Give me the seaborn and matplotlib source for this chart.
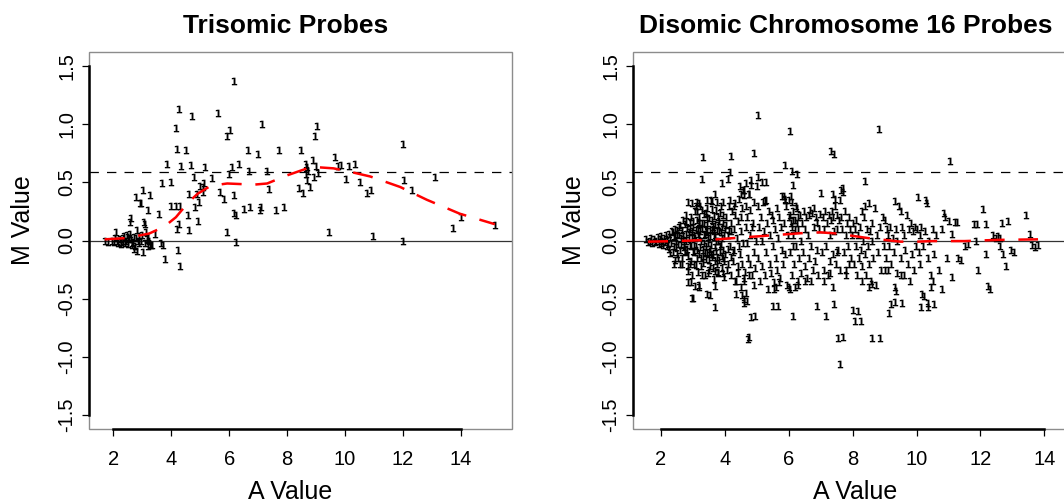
import matplotlib
matplotlib.use("Agg")
import matplotlib.pyplot as plt
from matplotlib.patches import Rectangle
import numpy as np
import pandas as pd
import seaborn as sns


# ---------------------------------------------------------
# Data (A = mean log intensity, M = log ratio)
# ---------------------------------------------------------

trisomic_pts = [
    (1.72, 0.00), (1.80, -0.01), (1.95, 0.00), (2.02, -0.01), (2.09, 0.07), (2.12, 0.00),
    (2.15, -0.02), (2.22, 0.01), (2.28, -0.01), (2.33, 0.02), (2.38, 0.04), (2.41, -0.02),
    (2.45, 0.00), (2.48, 0.05), (2.50, -0.03), (2.53, 0.01), (2.56, 0.06), (2.58, 0.16),
    (2.60, 0.19), (2.63, -0.02), (2.66, -0.04), (2.70, 0.03), (2.73, -0.07), (2.75, -0.05),
    (2.79, 0.37), (2.80, 0.09), (2.82, -0.086), (2.84, 0.00), (2.87, 0.04), (2.90, -0.02),
    (2.93, 0.32), (2.97, 0.32), (3.00, 0.05), (3.04, 0.43), (3.04, -0.10), (3.06, 0.16),
    (3.10, 0.14), (3.13, 0.07), (3.18, 0.26), (3.18, 0.03), (3.22, 0.00), (3.25, -0.03),
    (3.28, 0.39), (3.30, -0.04), (3.33, -0.04), (3.43, 0.06), (3.58, 0.23), (3.65, -0.02),
    (3.67, 0.49), (3.70, -0.04), (3.78, -0.16), (3.84, 0.66), (3.98, 0.50), (3.98, 0.30),
    (4.18, 0.97), (4.20, 0.79), (4.25, 1.13), (4.16, 0.30), (4.30, 0.30), (4.19, 0.10),
    (4.28, 0.14), (4.22, -0.08), (4.31, -0.215), (4.35, 0.64), (4.52, 0.78), (4.56, 0.22),
    (4.60, 0.40), (4.60, 0.09), (4.67, 0.65), (4.73, 1.07), (4.79, 0.55), (4.82, 0.29),
    (4.90, 0.40), (4.95, 0.33), (4.93, 0.17), (5.00, 0.47), (5.08, 0.46), (5.13, 0.49),
    (5.08, 0.42), (5.17, 0.63), (5.40, 0.54), (5.61, 1.10), (5.68, 0.42), (5.82, 0.36),
    (5.93, 0.07), (5.93, 0.90), (6.03, 0.95), (5.99, 0.57), (6.08, 0.63), (6.16, 1.37),
    (6.16, 0.39), (6.16, 0.24), (6.25, 0.22), (6.22, -0.015), (6.35, 0.66), (6.51, 0.27),
    (6.65, 0.78), (6.68, 0.60), (6.72, 0.29), (7.00, 0.74), (7.05, 0.26), (7.08, 0.29),
    (7.12, 1.00), (7.31, 0.60), (7.39, 0.44), (7.60, 0.26), (7.71, 0.78), (7.88, 0.29),
    (8.40, 0.45), (8.49, 0.78), (8.55, 0.41), (8.66, 0.66), (8.66, 0.57), (8.68, 0.63),
    (8.70, 0.52), (8.73, 0.60), (8.79, 0.46), (8.89, 0.69), (8.91, 0.55), (8.96, 0.90),
    (9.03, 0.98), (9.05, 0.58), (9.00, 0.64), (9.45, 0.07), (9.66, 0.72), (9.75, 0.64),
    (9.85, 0.65), (10.03, 0.53), (10.14, 0.64), (10.35, 0.66), (10.52, 0.50), (10.75, 0.41),
    (10.90, 0.43), (10.96, 0.04), (11.99, 0.83), (12.04, 0.52), (12.00, 0.00), (12.30, 0.43),
    (13.10, 0.55), (13.74, 0.11), (13.99, 0.20), (15.17, 0.13),
    (2.05, 0.02), (2.25, -0.03), (2.35, 0.00), (2.52, 0.03), (2.62, 0.02), (2.68, -0.01),
    (2.77, 0.02), (2.95, 0.00), (3.08, -0.02), (3.15, 0.01), (3.20, -0.05),
]

trisomic_fit_a = [1.7, 2.4, 2.84, 3.24, 3.76, 4.16, 4.56, 4.9, 5.36, 5.93, 6.85, 7.31,
                  8.0, 8.69, 9.03, 9.6, 10.18, 10.87, 11.9, 12.82, 13.96, 15.17]
trisomic_fit_m = [0.01, 0.02, 0.04, 0.06, 0.12, 0.20, 0.32, 0.40, 0.47, 0.49, 0.48, 0.49,
                  0.56, 0.62, 0.63, 0.62, 0.59, 0.55, 0.46, 0.35, 0.23, 0.14]

disomic_pts = [
    # A ~ 1.5 - 2.3
    (1.55, 0.01), (1.60, -0.01), (1.65, 0.00), (1.70, 0.02), (1.72, -0.02), (1.78, 0.01),
    (1.82, -0.01), (1.85, 0.00), (1.90, 0.03), (1.93, -0.03), (1.97, 0.01), (2.00, -0.02),
    (2.02, 0.04), (2.05, 0.00), (2.08, -0.04), (2.10, 0.02), (2.13, -0.01), (2.15, 0.05),
    (2.18, -0.05), (2.20, 0.01), (2.22, -0.03), (2.25, 0.06), (2.27, -0.07), (2.30, 0.03),
    # A ~ 2.3 - 3.0
    (2.32, -0.02), (2.35, 0.08), (2.37, -0.10), (2.40, 0.04), (2.42, -0.05), (2.45, 0.10),
    (2.47, 0.00), (2.50, -0.12), (2.52, 0.06), (2.55, -0.03), (2.57, 0.12), (2.60, -0.08),
    (2.62, 0.02), (2.65, 0.09), (2.67, -0.15), (2.70, 0.05), (2.72, -0.06), (2.75, 0.14),
    (2.77, -0.10), (2.80, 0.00), (2.82, 0.11), (2.85, -0.13), (2.87, 0.07), (2.90, -0.04),
    (2.92, 0.16), (2.95, -0.18), (2.97, 0.03), (3.00, -0.09), (2.50, 0.09), (2.55, -0.15),
    (2.60, 0.13), (2.65, -0.20), (2.70, 0.18), (2.75, -0.09), (2.80, 0.22), (2.85, -0.26),
    (2.90, 0.10), (2.95, 0.20), (2.98, -0.30), (2.45, -0.17), (2.38, 0.07), (2.41, -0.20),
    (2.60, -0.20), (2.28, -0.11), (2.84, -0.36), (3.07, -0.39), (2.96, -0.49), (3.20, -0.40),
    (3.43, -0.46), (2.84, -0.22), (2.86, 0.33), (3.14, 0.33), (2.80, 0.17), (3.12, 0.25),
    (2.97, 0.32), (2.91, -0.20), (2.94, -0.36), (3.00, -0.49),
    # A ~ 3.0 - 4.0
    (3.02, 0.12), (3.05, -0.20), (3.07, 0.25), (3.10, -0.05), (3.12, 0.18), (3.15, -0.27),
    (3.17, 0.06), (3.20, -0.12), (3.22, 0.30), (3.25, 0.00), (3.27, -0.22), (3.30, 0.15),
    (3.32, -0.08), (3.35, 0.23), (3.37, -0.30), (3.40, 0.09), (3.42, -0.16), (3.45, 0.28),
    (3.47, -0.02), (3.50, 0.19), (3.52, -0.25), (3.55, 0.04), (3.57, 0.35), (3.60, -0.14),
    (3.62, 0.12), (3.65, -0.33), (3.67, 0.21), (3.70, -0.06), (3.72, 0.26), (3.75, -0.20),
    (3.77, 0.08), (3.80, -0.28), (3.82, 0.17), (3.85, -0.10), (3.87, 0.30), (3.90, -0.24),
    (3.92, 0.02), (3.95, 0.22), (3.97, -0.31), (4.00, 0.10), (3.05, 0.05), (3.10, 0.30),
    (3.15, 0.10), (3.20, 0.20), (3.25, -0.15), (3.30, -0.30), (3.35, 0.05), (3.40, -0.05),
    (3.45, 0.13), (3.50, -0.10), (3.55, -0.22), (3.60, 0.27), (3.65, 0.03), (3.70, 0.14),
    (3.75, 0.33), (3.80, 0.00), (3.85, 0.24), (3.90, 0.12), (3.95, -0.15), (3.03, -0.10),
    (3.13, -0.15), (3.23, 0.08), (3.33, -0.19), (3.43, 0.20), (3.53, 0.10), (3.63, -0.24),
    (3.73, 0.00), (3.83, -0.17), (3.93, 0.15), (3.08, 0.02), (3.18, 0.16), (3.28, 0.26),
    (3.38, -0.10), (3.48, -0.28), (3.58, -0.04), (3.68, -0.18), (3.78, 0.20), (3.88, -0.03),
    (3.98, 0.05), (3.28, 0.53), (3.33, 0.72), (3.20, 0.32), (3.70, 0.40), (3.96, 0.33),
    (3.54, -0.47), (3.70, -0.57), (3.70, -0.39), (3.79, -0.27), (3.95, -0.28), (3.20, -0.38),
    (3.60, 0.34), (3.45, 0.35), (3.92, 0.49),
    # dense core A ~ 2.4 - 4.2
    (2.44, 0.03), (2.49, -0.06), (2.58, 0.05), (2.63, -0.04), (2.69, 0.01), (2.74, -0.03),
    (2.79, 0.06), (2.83, -0.07), (2.88, 0.02), (2.93, -0.05), (2.99, 0.08), (3.04, -0.04),
    (3.09, 0.09), (3.14, -0.08), (3.19, 0.04), (3.24, -0.06), (3.29, 0.11), (3.34, -0.02),
    (3.39, 0.06), (3.44, -0.11), (3.49, 0.03), (3.54, -0.07), (3.59, 0.09), (3.64, -0.12),
    (3.69, 0.05), (3.74, -0.09), (3.79, 0.13), (3.84, -0.05), (3.89, 0.07), (3.94, -0.08),
    (3.99, -0.18), (4.04, 0.13), (4.09, -0.07), (4.14, 0.09), (4.19, -0.14), (3.01, 0.17),
    (3.11, -0.21), (3.21, 0.14), (3.31, -0.13), (3.41, 0.24), (3.51, -0.17), (3.61, 0.18),
    (3.71, -0.26), (3.81, 0.09), (3.91, -0.13), (3.36, 0.15), (3.46, 0.07), (3.56, -0.12),
    (3.66, 0.10), (3.76, -0.14),
    # A ~ 4.0 - 5.0
    (4.02, -0.12), (4.05, 0.20), (4.08, -0.25), (4.10, 0.05), (4.12, 0.30), (4.15, -0.05),
    (4.18, 0.15), (4.20, -0.30), (4.22, 0.25), (4.25, -0.18), (4.28, 0.10), (4.30, -0.08),
    (4.33, 0.22), (4.35, -0.35), (4.38, 0.02), (4.40, 0.17), (4.42, -0.22), (4.45, 0.36),
    (4.48, -0.12), (4.50, 0.08), (4.52, -0.40), (4.55, 0.28), (4.58, -0.02), (4.60, 0.43),
    (4.62, -0.27), (4.65, 0.12), (4.68, -0.45), (4.70, 0.20), (4.72, -0.15), (4.75, 0.40),
    (4.78, -0.20), (4.80, 0.05), (4.82, 0.48), (4.85, -0.30), (4.88, 0.15), (4.90, -0.10),
    (4.92, 0.33), (4.95, -0.24), (4.98, 0.00), (4.10, -0.20), (4.20, 0.08), (4.30, 0.30),
    (4.40, -0.28), (4.50, 0.20), (4.60, -0.35), (4.70, -0.02), (4.80, 0.26), (4.90, -0.38),
    (4.15, 0.35), (4.45, -0.05), (4.65, 0.30), (4.85, 0.12), (4.25, -0.10), (4.55, -0.20),
    (4.75, -0.30), (4.17, 0.59), (4.19, 0.73), (4.11, 0.53), (4.61, -0.54), (4.96, -0.65),
    (4.73, -0.85), (4.75, -0.83), (4.82, -0.66), (4.60, -0.50), (4.55, -0.47), (4.70, -0.52),
    (4.35, -0.46), (4.90, 0.75), (4.47, 0.47), (4.68, 0.49), (4.81, 0.52), (4.50, 0.40),
    (4.60, 0.39), (4.32, 0.32), (4.58, 0.43), (4.75, 0.40), (4.33, -0.35), (4.61, -0.32),
    # A ~ 5.0 - 6.0
    (5.03, 0.30), (5.05, -0.15), (5.08, 0.12), (5.10, -0.35), (5.12, 0.20), (5.15, 0.00),
    (5.18, -0.22), (5.20, 0.33), (5.22, 0.08), (5.25, -0.30), (5.28, 0.35), (5.30, -0.10),
    (5.32, 0.15), (5.35, -0.42), (5.38, 0.25), (5.40, -0.20), (5.42, 0.05), (5.45, -0.28),
    (5.48, 0.22), (5.50, -0.05), (5.52, 0.18), (5.55, -0.36), (5.58, 0.10), (5.60, -0.15),
    (5.62, 0.28), (5.65, -0.25), (5.68, 0.02), (5.70, 0.20), (5.72, -0.32), (5.75, 0.12),
    (5.78, -0.08), (5.80, 0.38), (5.82, -0.20), (5.85, 0.15), (5.88, 0.35), (5.90, -0.12),
    (5.92, 0.30), (5.95, -0.38), (5.98, 0.05), (5.03, 1.08), (5.17, 0.50), (5.05, 0.55),
    (5.30, 0.50), (5.52, -0.56), (5.66, -0.565), (5.55, -0.42), (5.60, -0.40), (5.70, -0.36),
    (5.89, 0.65), (5.85, 0.38), (5.87, 0.36), (5.25, 0.34), (5.00, 0.47),
    # A ~ 6.0 - 7.0
    (6.02, 0.20), (6.05, -0.10), (6.08, 0.15), (6.10, -0.30), (6.12, 0.25), (6.15, 0.05),
    (6.18, -0.20), (6.20, 0.18), (6.22, -0.05), (6.25, 0.28), (6.28, -0.35), (6.30, 0.10),
    (6.32, -0.15), (6.35, 0.22), (6.38, -0.28), (6.40, 0.00), (6.42, 0.15), (6.45, -0.10),
    (6.48, 0.25), (6.50, -0.22), (6.52, 0.10), (6.55, 0.20), (6.58, -0.32), (6.60, 0.05),
    (6.62, 0.22), (6.65, -0.15), (6.68, 0.26), (6.70, -0.05), (6.72, 0.24), (6.75, -0.25),
    (6.78, 0.12), (6.80, 0.28), (6.82, -0.18), (6.85, 0.20), (6.88, -0.08), (6.90, 0.16),
    (6.92, -0.30), (6.95, 0.10), (6.98, 0.23), (6.05, 0.22), (6.10, 0.12), (6.15, 0.18),
    (6.20, 0.10), (6.25, 0.15), (6.12, -0.05), (6.22, 0.30), (6.30, 0.20), (6.03, 0.94),
    (6.10, 0.60), (6.25, 0.57), (6.13, -0.645), (6.00, -0.40), (6.05, -0.42), (6.20, -0.40),
    (6.30, -0.38), (6.50, -0.35), (6.70, -0.35), (6.89, -0.56), (6.00, 0.35), (6.08, 0.38),
    (6.10, 0.33), (6.15, 0.48),
    # A ~ 7.0 - 8.0
    (7.02, 0.41), (7.05, -0.10), (7.08, 0.20), (7.10, -0.25), (7.12, 0.10), (7.15, 0.25),
    (7.18, -0.05), (7.20, 0.15), (7.22, -0.30), (7.25, 0.22), (7.28, 0.05), (7.30, -0.18),
    (7.32, 0.18), (7.35, 0.25), (7.38, -0.12), (7.40, 0.20), (7.42, 0.08), (7.45, 0.30),
    (7.48, -0.20), (7.50, 0.22), (7.52, 0.10), (7.55, -0.08), (7.58, 0.18), (7.60, 0.35),
    (7.62, -0.25), (7.65, 0.20), (7.68, 0.10), (7.70, 0.42), (7.72, -0.10), (7.75, 0.25),
    (7.78, 0.05), (7.80, -0.30), (7.82, 0.15), (7.85, -0.05), (7.88, 0.20), (7.90, -0.20),
    (7.92, 0.10), (7.95, -0.15), (7.98, 0.05), (7.17, -0.65), (7.42, -0.545), (7.70, -0.83),
    (7.60, -1.06), (7.53, -0.84), (7.32, 0.77), (7.43, 0.74), (7.40, 0.40), (7.45, 0.36),
    (7.65, 0.43), (7.70, 0.45), (7.10, -0.35), (7.30, -0.28), (7.40, -0.40), (7.80, -0.25),
    (7.50, -0.10),
    # A ~ 8.0 - 9.0
    (8.02, 0.15), (8.05, -0.20), (8.08, 0.10), (8.10, -0.05), (8.12, 0.18), (8.15, -0.30),
    (8.18, 0.05), (8.20, -0.15), (8.22, 0.12), (8.25, -0.08), (8.28, 0.25), (8.30, -0.22),
    (8.32, 0.00), (8.35, 0.20), (8.38, -0.12), (8.40, 0.30), (8.42, -0.30), (8.45, 0.10),
    (8.48, -0.05), (8.50, 0.32), (8.52, -0.20), (8.55, 0.08), (8.58, -0.35), (8.60, 0.15),
    (8.62, 0.00), (8.65, -0.15), (8.70, 0.28), (8.72, -0.38), (8.75, 0.05), (8.80, -0.10),
    (8.85, 0.12), (8.90, -0.25), (8.95, 0.20), (8.98, -0.05), (8.00, -0.60), (8.08, -0.69),
    (8.18, -0.61), (8.25, -0.69), (8.62, -0.84), (8.86, -0.84), (8.83, 0.96), (8.40, 0.51),
    (8.30, -0.35), (8.50, -0.40), (8.60, -0.37),
    # A ~ 9.0 - 10.0
    (9.02, 0.18), (9.05, -0.15), (9.08, 0.10), (9.10, -0.25), (9.12, 0.05), (9.15, -0.05),
    (9.18, 0.12), (9.20, -0.20), (9.25, 0.02), (9.30, -0.10), (9.32, 0.34), (9.35, 0.10),
    (9.38, -0.28), (9.40, 0.00), (9.45, 0.30), (9.50, -0.15), (9.52, 0.25), (9.55, 0.12),
    (9.60, -0.30), (9.62, 0.05), (9.65, -0.08), (9.70, 0.22), (9.72, -0.20), (9.75, 0.10),
    (9.80, -0.35), (9.82, 0.15), (9.85, -0.12), (9.88, 0.08), (9.92, -0.25), (9.95, 0.12),
    (9.98, -0.05), (9.13, -0.62), (9.20, -0.55), (9.34, -0.40), (9.37, -0.43), (9.34, -0.53),
    (9.55, -0.535), (9.50, -0.30), (9.00, -0.25),
    # A ~ 10.0 - 11.0
    (10.02, 0.10), (10.05, 0.37), (10.08, -0.10), (10.10, 0.05), (10.12, -0.20), (10.15, 0.12),
    (10.20, -0.05), (10.25, 0.08), (10.30, 0.35), (10.32, 0.32), (10.35, -0.15), (10.40, 0.00),
    (10.45, -0.30), (10.50, 0.10), (10.55, -0.12), (10.60, 0.05), (10.70, -0.25), (10.80, 0.10),
    (10.86, 0.24), (10.90, 0.20), (10.95, -0.15), (10.13, -0.57), (10.18, -0.46), (10.23, -0.48),
    (10.36, -0.54), (10.35, -0.57), (10.55, -0.545), (10.81, -0.42), (10.45, -0.40), (10.50, -0.35),
    # A ~ 11.0 - 13.8
    (11.04, 0.68), (11.02, 0.17), (11.10, 0.06), (11.12, -0.31), (11.20, 0.16), (11.28, 0.16),
    (11.30, -0.15), (11.40, -0.17), (11.50, -0.05), (11.60, -0.03), (11.80, 0.14), (11.85, 0.00),
    (11.93, -0.25), (11.88, 0.14), (12.08, 0.27), (12.17, 0.14), (12.17, -0.12), (12.22, -0.39),
    (12.30, -0.42), (12.40, 0.05), (12.50, 0.02), (12.60, -0.05), (12.67, 0.15), (12.70, -0.12),
    (12.80, -0.22), (12.85, 0.17), (12.95, -0.08), (13.05, -0.10), (13.42, 0.22), (13.56, 0.06),
    (13.60, -0.04), (13.70, -0.06), (13.79, -0.04), (12.55, 0.04), (12.62, 0.02),
]

disomic_fit_a = [1.6, 2.5, 3.5, 4.5, 5.5, 6.5, 7.0, 7.5, 8.0, 8.5, 9.0, 9.5,
                 10.0, 10.5, 11.5, 12.5, 13.8]
disomic_fit_m = [-0.01, -0.005, 0.005, 0.025, 0.045, 0.065, 0.07, 0.06, 0.04, 0.02, 0.005, -0.01,
                 -0.01, -0.005, -0.005, 0.005, 0.01]

trisomy_level = np.log2(1.5)   # expected M for 3 vs 2 copies

y_ticks = [-1.5, -1.0, -0.5, 0.0, 0.5, 1.0, 1.5]
x_ticks = [2, 4, 6, 8, 10, 12, 14]


# ---------------------------------------------------------
# Style
# ---------------------------------------------------------

sns.set_style("white")
plt.rcParams["font.family"] = ["Liberation Sans", "DejaVu Sans"]
plt.rcParams["text.color"] = "black"
plt.rcParams["axes.labelcolor"] = "black"
plt.rcParams["xtick.color"] = "black"
plt.rcParams["ytick.color"] = "black"

W, H = 1064, 503
fig = plt.figure(figsize=(W / 100, H / 100), dpi=100)


def px_axes(left, top, width, height):

    return fig.add_axes([left / W, 1 - (top + height) / H, width / W, height / H])


def draw_panel(ax, pts, fit_a, fit_m, xlim, title, title_x, ylab_x, xlab_x):

    df = pd.DataFrame(pts, columns=["A", "M"])
    fit = pd.DataFrame({"A": fit_a, "M": fit_m})

    ax.axhline(0, color="#333333", lw=0.9, zorder=1)
    ax.axhline(trisomy_level, color="black", lw=0.9, dashes=(7.5, 6.5), zorder=1)

    sns.scatterplot(
        data=df, x="A", y="M", ax=ax,
        marker="$\\mathbf{1}$", s=30, color="black", linewidth=0, zorder=3
    )

    sns.lineplot(
        data=fit, x="A", y="M", ax=ax, estimator=None, sort=False,
        color="red", lw=1.8, linestyle=(0, (8, 5.5)), zorder=4
    )

    ax.set_xlim(*xlim)
    ax.set_ylim(-1.62, 1.62)
    ax.set_xticks(x_ticks)
    ax.set_yticks(y_ticks)
    ax.set_xticklabels([str(t) for t in x_ticks])
    ax.set_yticklabels([f"{t:.1f}" for t in y_ticks], rotation=90, va="center")

    ax.tick_params(axis="both", direction="out", length=5, width=0.9,
                   color="black", labelcolor="black", labelsize=14.5,
                   left=True, bottom=True)
    ax.tick_params(axis="x", pad=10)
    ax.tick_params(axis="y", pad=4)

    # R style: gray box, black axis lines from first to last tick
    for side in ["top", "right"]:
        ax.spines[side].set_visible(False)
    ax.spines["bottom"].set_bounds(2, 14)
    ax.spines["left"].set_bounds(-1.5, 1.5)
    for side in ["bottom", "left"]:
        ax.spines[side].set_color("black")
        ax.spines[side].set_linewidth(1.8)
        ax.spines[side].set_zorder(5)
    ax.add_patch(Rectangle((0, 0), 1, 1, transform=ax.transAxes, fill=False,
                           ec="#8c8c8c", lw=1.0, clip_on=False, zorder=2))

    ax.set_xlabel("A Value", fontsize=18, va="center", color="black")
    ax.set_ylabel("M Value", fontsize=18, va="center", color="black")
    ax.xaxis.set_label_coords(xlab_x, -0.167)
    ax.yaxis.set_label_coords(ylab_x, 0.554)

    fig.text(title_x / W, 1 - 26 / H, title, ha="center", va="center",
             fontsize=19, fontweight="bold", color="black")


ax1 = px_axes(89, 52, 423, 377)
draw_panel(ax1, trisomic_pts, trisomic_fit_a, trisomic_fit_m, (1.16, 15.76),
           "Trisomic Probes", 286, -0.156, 0.475)

ax2 = px_axes(633, 52, 437, 377)
draw_panel(ax2, disomic_pts, disomic_fit_a, disomic_fit_m, (1.13, 14.80),
           "Disomic Chromosome 16 Probes", 846, -0.135, 0.508)

fig.savefig("out.png", dpi=100)
